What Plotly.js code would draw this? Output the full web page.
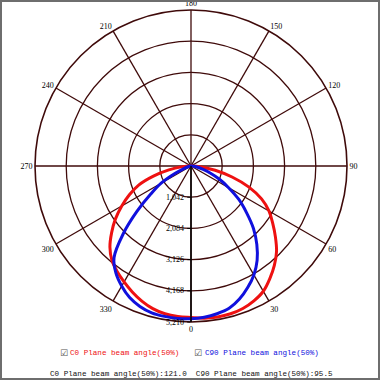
<!DOCTYPE html>
<html>
<head>
<meta charset="utf-8">
<script src="https://cdn.plot.ly/plotly-3.0.1.min.js"></script>
<style>html,body{margin:0;padding:0;background:#fff;}#chart{width:382px;height:383px;}</style>
</head>
<body>
<div id="chart"></div>
<script>
// Angles (degrees, C-plane gamma), left half 270..355 then 0..90
const theta = [270,275,280,285,290,295,300,305,310,315,320,325,330,335,340,345,350,355,
               0,5,10,15,20,25,30,35,40,45,50,55,60,65,70,75,80,85,90];
// C0 plane intensity
const c0 = [0,330,750,1300,1860,2270,2670,3080,3460,3830,4110,4300,4470,4640,4800,4930,5010,5045,
            5060,5100,5120,5110,5065,4970,4830,4590,4330,4040,3680,3330,3010,2600,2060,1420,820,350,0];
// C90 plane intensity
const c90 = [0,10,40,100,250,580,1150,1650,2350,3200,4000,4370,4630,4850,4990,5075,5100,5110,
             5100,5070,5010,4920,4730,4480,4200,3850,3420,2950,2420,1950,1450,1050,680,400,200,80,0];
// Radial ticks
const radialTicks = [1042,2084,3126,4168,5210];
const radialLabels = ["1,042","2,084","3,126","4,168","5,210"];
// Angular ticks
const angTicks = [0,30,60,90,120,150,180,210,240,270,300,330];
const angLabels = ["0","30","60","90","120","150","180","210","240","270","300","330"];
const legendC0 = "C0 Plane beam angle(50%)";
const legendC90 = "C90 Plane beam angle(50%)";
const summary = "C0 Plane beam angle(50%):121.0  C90 Plane beam angle(50%):95.5";

const grid = '#3f0a0a';
const serif = 'Liberation Serif, Times New Roman, serif';
const mono = 'Liberation Mono, DejaVu Sans Mono, monospace';

const traces = [
  {type:'scatterpolar', mode:'lines', theta:theta, r:c0, name:legendC0,
   line:{color:'#ee1111', width:3, shape:'spline', smoothing:1}, hoverinfo:'skip'},
  {type:'scatterpolar', mode:'lines', theta:theta, r:c90, name:legendC90,
   line:{color:'#1010dd', width:3, shape:'spline', smoothing:1}, hoverinfo:'skip'}
];

const W = 382, H = 383;
const layout = {
  width: W, height: H,
  margin:{l:0,r:0,t:0,b:0},
  paper_bgcolor:'#ffffff',
  showlegend:false,
  polar:{
    domain:{x:[35/W, 347/W], y:[1-322/H, 1-10/H]},
    bgcolor:'#ffffff',
    angularaxis:{
      rotation:270, direction:'counterclockwise',
      tickmode:'array', tickvals:angTicks, ticktext:angLabels,
      showgrid:true, gridcolor:grid, gridwidth:1.3,
      showline:true, linecolor:grid, linewidth:1.6,
      ticks:'', tickfont:{family:serif, size:8, color:'#000'}
    },
    radialaxis:{
      range:[0,5210],
      tickmode:'array', tickvals:radialTicks, ticktext:radialLabels,
      showgrid:true, gridcolor:grid, gridwidth:1.3,
      showline:true, linecolor:'#000', linewidth:1.5,
      ticks:'outside', ticklen:3, tickcolor:'#000',
      tickangle:-90,
      tickfont:{family:serif, size:8, color:'#000'},
      angle:270
    }
  },
  shapes:[
    {type:'rect', xref:'paper', yref:'paper', x0:1/W, x1:379/W, y0:1-379/H, y1:1-1/H,
     line:{color:'#6e6e6e', width:2}, fillcolor:'rgba(0,0,0,0)'}
  ],
  annotations:[
    {xref:'paper', yref:'paper', x:58/W, y:1-353/H, xanchor:'left', yanchor:'middle', showarrow:false,
     text:'☑', font:{family:'DejaVu Sans', size:9, color:'#555'}},
    {xref:'paper', yref:'paper', x:68/W, y:1-353/H, xanchor:'left', yanchor:'middle', showarrow:false,
     text:legendC0, font:{family:mono, size:7.6, color:'#ee1111'}},
    {xref:'paper', yref:'paper', x:192/W, y:1-353/H, xanchor:'left', yanchor:'middle', showarrow:false,
     text:'☑', font:{family:'DejaVu Sans', size:9, color:'#555'}},
    {xref:'paper', yref:'paper', x:203/W, y:1-353/H, xanchor:'left', yanchor:'middle', showarrow:false,
     text:legendC90, font:{family:mono, size:7.6, color:'#1010dd'}},
    {xref:'paper', yref:'paper', x:191/W, y:1-374/H, xanchor:'center', yanchor:'middle', showarrow:false,
     text:summary, font:{family:mono, size:7.6, color:'#111'}}
  ]
};

Plotly.newPlot('chart', traces, layout, {staticPlot:true, displayModeBar:false});
</script>
</body>
</html>
